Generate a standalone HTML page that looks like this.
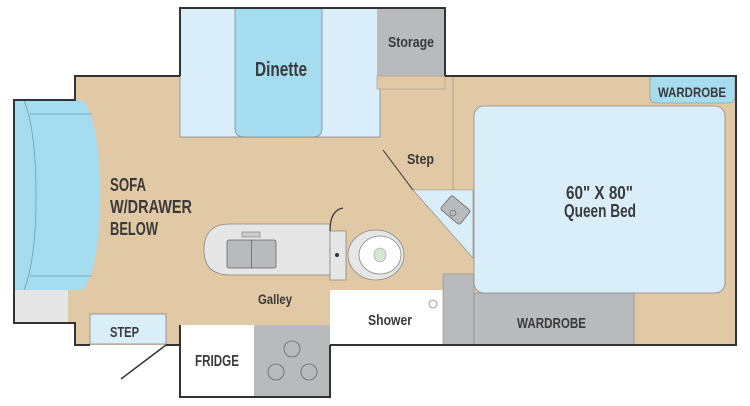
<!DOCTYPE html>
<html><head><meta charset="utf-8"><style>
body{margin:0;background:#fff}
svg{display:block}
text{font-family:"Liberation Sans Narrow","Liberation Sans",sans-serif;font-weight:bold;fill:#3a3a3a}
</style></head><body>
<svg width="750" height="406" viewBox="0 0 750 406" xmlns="http://www.w3.org/2000/svg">
<path d="M75,76 H736 V345 H180 V345 H75 V323 H14 V100 H75 Z" fill="#e2c9a5"/>
<rect x="180" y="8" width="200" height="129" fill="#daeefa" stroke="#888" stroke-width="0.8"/>
<path d="M235,8 H322 V128 Q322,137 313,137 H244 Q235,137 235,128 Z" fill="#a6dcf0" stroke="#888" stroke-width="0.8"/>
<rect x="377" y="8" width="68" height="68" fill="#b9babc"/>
<rect x="377" y="76" width="68" height="13" fill="#e2c9a5" stroke="#999" stroke-width="0.6"/>
<path d="M180,76 V8 H445 V76" fill="none" stroke="#333" stroke-width="2"/>
<path d="M14,100 H82 Q100,120 100,195 Q100,270 82,290 H14 Z" fill="#a6dcf0"/>
<path d="M24,100 Q36,130 36,195 Q36,260 24,290" fill="none" stroke="#6a9fb5" stroke-width="0.8"/>
<path d="M30,114 H92 M30,276 H92" stroke="#6a9fb5" stroke-width="0.8"/>
<rect x="14" y="290" width="54" height="33" fill="#e6e6e7"/>
<rect x="90" y="314" width="76" height="30" fill="#daeefa" stroke="#888" stroke-width="0.8"/>
<rect x="180" y="325" width="74" height="72" fill="#fff"/>
<rect x="254" y="325" width="76" height="72" fill="#b9babc"/>
<circle cx="292" cy="349" r="8" fill="none" stroke="#666" stroke-width="0.8"/>
<circle cx="276" cy="372" r="8" fill="none" stroke="#666" stroke-width="0.8"/>
<circle cx="309" cy="372" r="8" fill="none" stroke="#666" stroke-width="0.8"/>
<path d="M180,325 V397 H330 V345" fill="none" stroke="#333" stroke-width="2"/>
<line x1="166" y1="345" x2="121" y2="379" stroke="#333" stroke-width="1.5"/>
<path d="M230,224 H330 V275 H230 Q204,275 204,250 Q204,224 230,224 Z" fill="#e6e6e7" stroke="#888" stroke-width="0.8"/>
<rect x="242" y="232" width="18" height="5" fill="#ccc" stroke="#777" stroke-width="0.6"/>
<rect x="227" y="240" width="49" height="28" rx="2" fill="#b9babc" stroke="#666" stroke-width="0.8"/>
<line x1="251.5" y1="240" x2="251.5" y2="268" stroke="#666" stroke-width="0.8"/>
<rect x="330" y="231" width="16" height="49" fill="#e6e6e7" stroke="#888" stroke-width="0.8"/>
<circle cx="337" cy="255" r="2" fill="#333"/>
<ellipse cx="376" cy="255" rx="28" ry="25" fill="#e6e6e7" stroke="#888" stroke-width="0.8"/>
<ellipse cx="380" cy="255" rx="21" ry="19" fill="#fff" stroke="#888" stroke-width="0.8"/>
<ellipse cx="380" cy="255" rx="6" ry="7" fill="#d6e8d4" stroke="#999" stroke-width="0.6"/>
<path d="M330,231 Q330,210 343,208" fill="none" stroke="#333" stroke-width="1.2"/>
<rect x="330" y="290" width="113" height="55" fill="#fff"/>
<circle cx="433" cy="304" r="4" fill="#fff" stroke="#888" stroke-width="0.8"/>
<rect x="443" y="274" width="31" height="71" fill="#b9babc" stroke="#888" stroke-width="0.6"/>
<rect x="474" y="293" width="160" height="52" fill="#b9babc" stroke="#888" stroke-width="0.6"/>
<line x1="453" y1="76" x2="453" y2="190" stroke="#999" stroke-width="0.8"/>
<line x1="383" y1="150" x2="413" y2="190" stroke="#333" stroke-width="1"/>
<polygon points="413,190 473,190 473,258" fill="#daeefa" stroke="#888" stroke-width="0.6"/>
<rect x="443" y="201" width="25" height="18" rx="2" transform="rotate(40 455.5 210)" fill="#b9babc" stroke="#666" stroke-width="0.8"/>
<circle cx="453" cy="213" r="3" fill="none" stroke="#666" stroke-width="0.6"/>
<rect x="474" y="106" width="251" height="187" rx="10" fill="#daeefa" stroke="#888" stroke-width="0.8"/>
<path d="M650,76 H735 V96 Q735,103 728,103 H656 Q650,103 650,97 Z" fill="#a6dcf0" stroke="#888" stroke-width="0.6"/>
<path d="M445,76 H736 V345 H330 M180,345 H166 M90,345 H75 V323 H14 V100 H75 V76 H180" fill="none" stroke="#333" stroke-width="2"/>
<text x="255" y="76" font-size="20" textLength="52" lengthAdjust="spacingAndGlyphs">Dinette</text>
<text x="388" y="47" font-size="15" textLength="46" lengthAdjust="spacingAndGlyphs">Storage</text>
<text x="110" y="191" font-size="18" textLength="36" lengthAdjust="spacingAndGlyphs">SOFA</text>
<text x="110" y="213" font-size="18" textLength="82" lengthAdjust="spacingAndGlyphs">W/DRAWER</text>
<text x="110" y="235" font-size="18" textLength="48" lengthAdjust="spacingAndGlyphs">BELOW</text>
<text x="258" y="304" font-size="14" textLength="34" lengthAdjust="spacingAndGlyphs">Galley</text>
<text x="110" y="337" font-size="15" textLength="29" lengthAdjust="spacingAndGlyphs">STEP</text>
<text x="195" y="366" font-size="16" textLength="44" lengthAdjust="spacingAndGlyphs">FRIDGE</text>
<text x="368" y="325" font-size="15" textLength="44" lengthAdjust="spacingAndGlyphs">Shower</text>
<text x="517" y="328" font-size="15" textLength="69" lengthAdjust="spacingAndGlyphs">WARDROBE</text>
<text x="658" y="97" font-size="14" textLength="68" lengthAdjust="spacingAndGlyphs">WARDROBE</text>
<text x="407" y="164" font-size="15" textLength="27" lengthAdjust="spacingAndGlyphs">Step</text>
<text x="566" y="199" font-size="18" textLength="67" lengthAdjust="spacingAndGlyphs">60" X 80"</text>
<text x="564" y="217" font-size="18" textLength="72" lengthAdjust="spacingAndGlyphs">Queen Bed</text>
</svg>
</body></html>
